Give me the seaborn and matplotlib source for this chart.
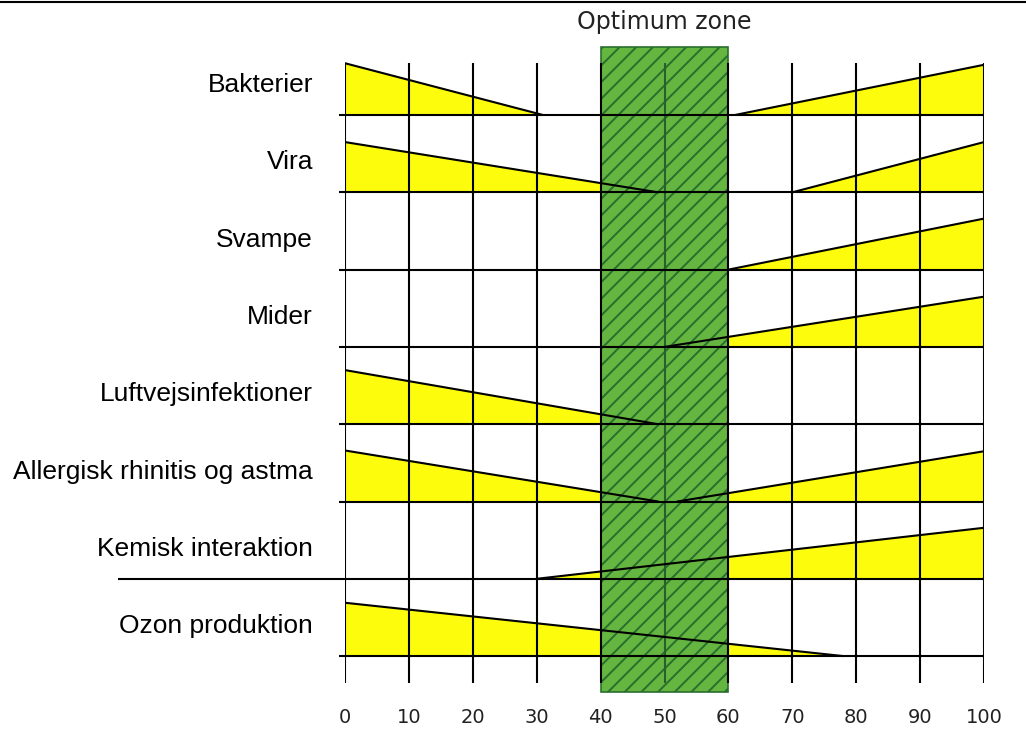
import matplotlib
matplotlib.use("Agg")
import matplotlib.pyplot as plt
from matplotlib.patches import Rectangle
from matplotlib.lines import Line2D
import seaborn as sns
import pandas as pd
import numpy as np

# rows, top to bottom
categories = ["Bakterier", "Vira", "Svampe", "Mider", "Luftvejsinfektioner",
              "Allergisk rhinitis og astma", "Kemisk interaktion", "Ozon produktion"]
# %RH where the low-humidity effect fades out (nan = none)
low_end = [31, 49, np.nan, np.nan, 49, 49, np.nan, 78]
# %RH where the high-humidity effect starts (nan = none)
high_start = [61, 70, 60, 50, np.nan, 52, 30, np.nan]
# relative size of the effect at 0 % and 100 % RH
left_peak = [0.67, 0.65, np.nan, np.nan, 0.70, 0.66, np.nan, 0.69]
right_peak = [0.65, 0.65, 0.66, 0.65, np.nan, 0.65, 0.66, np.nan]
optimum = (40, 60)
rh_ticks = list(range(0, 101, 10))

sns.set_theme(style="white")
plt.rcParams["font.family"] = ["Liberation Sans", "DejaVu Sans"]
plt.rcParams["hatch.linewidth"] = 1.4

fig = plt.figure(figsize=(10.26, 7.29), dpi=100)
ax = fig.add_axes([345 / 1026, 29 / 729, 639 / 1026, 670 / 729])
ax.set_xlim(0, 100)
ax.set_ylim(-0.568, 8.10)

n = len(categories)
base = [n - 1 - i for i in range(n)]

# yellow wedges + outline segments
segs = []
for i in range(n):
    b = base[i]
    if not np.isnan(low_end[i]):
        ax.fill([0, 0, low_end[i]], [b, b + left_peak[i], b],
                color="#fcfc0c", lw=0, zorder=1)
        segs.append({"x": 0, "y": b + left_peak[i], "seg": f"{i}L"})
        segs.append({"x": low_end[i], "y": b, "seg": f"{i}L"})
    if not np.isnan(high_start[i]):
        ax.fill([high_start[i], 100, 100], [b, b + right_peak[i], b],
                color="#fcfc0c", lw=0, zorder=1)
        segs.append({"x": high_start[i], "y": b, "seg": f"{i}R"})
        segs.append({"x": 100, "y": b + right_peak[i], "seg": f"{i}R"})
seg_df = pd.DataFrame(segs)

# optimum zone
lo, hi = optimum
ax.add_patch(Rectangle((lo, -0.47), hi - lo, 8.35, facecolor="#64b640",
                       edgecolor="none", zorder=2))
ax.add_patch(Rectangle((lo, -0.47), hi - lo, 8.35, facecolor="none",
                       edgecolor="#2a6e2e", hatch="//", lw=1.2, zorder=2.1))

# grid
for x in rh_ticks:
    c = "#2a5e2a" if lo < x < hi else "black"
    ax.plot([x, x], [-0.35, 7.67], color=c, lw=1.5, zorder=3,
            solid_capstyle="butt")
for i in range(n):
    x0 = -35.5 if categories[i] == "Kemisk interaktion" else -1
    ax.plot([x0, 100], [base[i], base[i]], color="black", lw=1.5, zorder=3,
            clip_on=False, solid_capstyle="butt")

sns.lineplot(data=seg_df, x="x", y="y", units="seg", estimator=None,
             color="black", lw=1.5, ax=ax, zorder=4, legend=False)

ax.text(50, 8.20, "Optimum zone", ha="center", va="center", fontsize=17,
        family="DejaVu Sans", color="#222222")

ax.set_xticks(rh_ticks)
ax.set_xticklabels([str(t) for t in rh_ticks], family="DejaVu Sans",
                   fontsize=14, color="#222222")
ax.set_yticks([b + 0.42 for b in base])
ax.set_yticklabels(categories, fontsize=19, color="black")
ax.tick_params(axis="x", length=0, pad=6)
ax.tick_params(axis="y", length=0, pad=23)
ax.set_xlabel("")
ax.set_ylabel("")
for s in ax.spines.values():
    s.set_visible(False)

fig.add_artist(Line2D([0, 1], [0.997, 0.997], color="black", lw=1.5))

fig.savefig("out.png", dpi=100)
